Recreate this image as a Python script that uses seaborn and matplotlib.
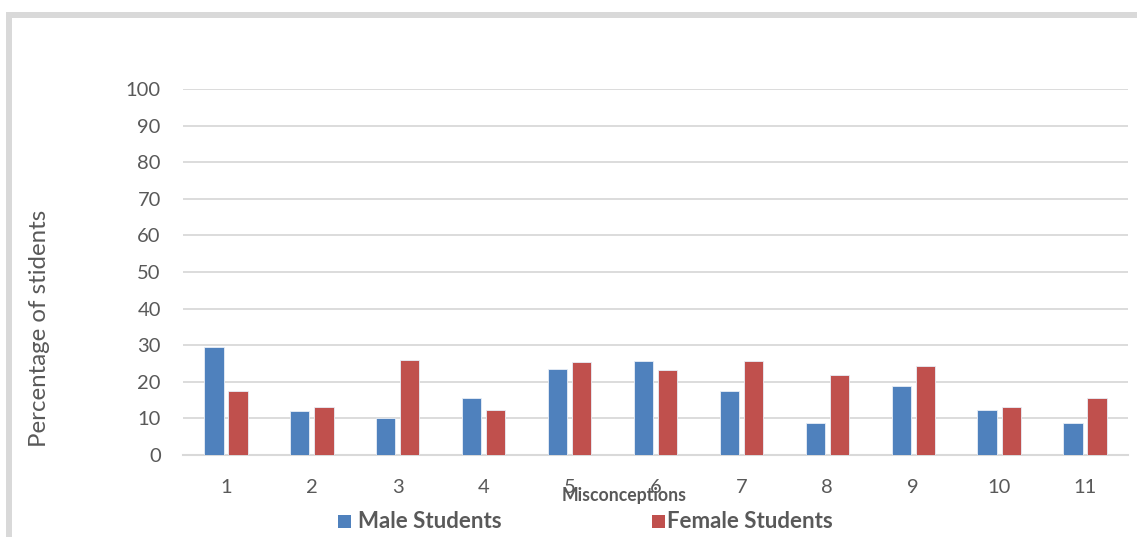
import matplotlib
matplotlib.use("Agg")
import matplotlib.pyplot as plt
from matplotlib.lines import Line2D
import seaborn as sns
import pandas as pd

# Share of students holding each misconception, by gender (%)
misconceptions = ["1", "2", "3", "4", "5", "6", "7", "8", "9", "10", "11"]
male_pct = [29.4, 12.0, 10.2, 15.7, 23.4, 25.7, 17.4, 8.7, 18.8, 12.4, 8.7]
female_pct = [17.4, 13.0, 25.9, 12.3, 25.5, 23.1, 25.7, 21.8, 24.4, 13.0, 15.7]
groups = ["Male Students", "Female Students"]
y_ticks = [0, 10, 20, 30, 40, 50, 60, 70, 80, 90, 100]

df = pd.DataFrame({
    "Misconceptions": misconceptions * 2,
    "pct": male_pct + female_pct,
    "group": [groups[0]] * len(misconceptions) + [groups[1]] * len(misconceptions),
})

sns.set_theme(style="white")
plt.rcParams["font.family"] = ["Lato", "DejaVu Sans"]

TEXT = "#595959"
GRID = "#d9d9d9"
colors = ["#4f81bd", "#c0504d"]

W, H = 1137, 537
fig = plt.figure(figsize=(W / 100, H / 100), dpi=100)
ax = fig.add_axes([183 / W, 1 - 455 / H, (1128 - 183) / W, (455 - 89) / H])

sns.barplot(
    data=df, x="Misconceptions", y="pct", hue="group", order=misconceptions,
    hue_order=groups, palette=colors, saturation=1, width=0.56, gap=0.2,
    edgecolor="#e8eef7", linewidth=0.6, legend=False, ax=ax, zorder=3,
)

ax.set_ylim(0, 100)
ax.set_xlim(-0.5, len(misconceptions) - 0.5)
ax.set_yticks(y_ticks)
ax.yaxis.grid(True, color=GRID, linewidth=1.3, zorder=0)
ax.xaxis.grid(False)
ax.set_axisbelow(True)
for side in ["top", "right", "left"]:
    ax.spines[side].set_visible(False)
ax.spines["bottom"].set_color(GRID)
ax.spines["bottom"].set_linewidth(1.5)
ax.spines["bottom"].set_zorder(1)
ax.tick_params(axis="both", length=0, labelsize=14.5, labelcolor=TEXT)
ax.tick_params(axis="y", pad=16)
ax.tick_params(axis="x", pad=17)

ax.set_xlabel("")
ax.set_ylabel("")
fig.text(624 / W, 1 - 495 / H, "Misconceptions", ha="center", va="center",
         fontsize=12.7, fontweight="bold", color=TEXT)
fig.text(40 / W, 1 - 328 / H, "Percentage of stidents", ha="center", va="center",
         rotation=90, fontsize=17.3, color=TEXT)

# Legend entries
for sx, tx, label, c in [(338, 358, groups[0], colors[0]), (652, 667, groups[1], colors[1])]:
    fig.add_artist(plt.Rectangle((sx / W, 1 - 528 / H), 13 / W, 13 / H,
                                 transform=fig.transFigure, facecolor=c, edgecolor="none"))
    fig.text(tx / W, 1 - 521 / H, label, ha="left", va="center",
             fontsize=16, fontweight="bold", color=TEXT)

# Outer chart frame
fig.add_artist(Line2D([9 / W, 9 / W], [0, 1 - 12 / H], transform=fig.transFigure,
                      color=GRID, linewidth=4.3, solid_capstyle="butt"))
fig.add_artist(Line2D([6 / W, 1], [1 - 15 / H, 1 - 15 / H], transform=fig.transFigure,
                      color=GRID, linewidth=4.3, solid_capstyle="butt"))

fig.savefig("out.png", dpi=100, facecolor="white")
